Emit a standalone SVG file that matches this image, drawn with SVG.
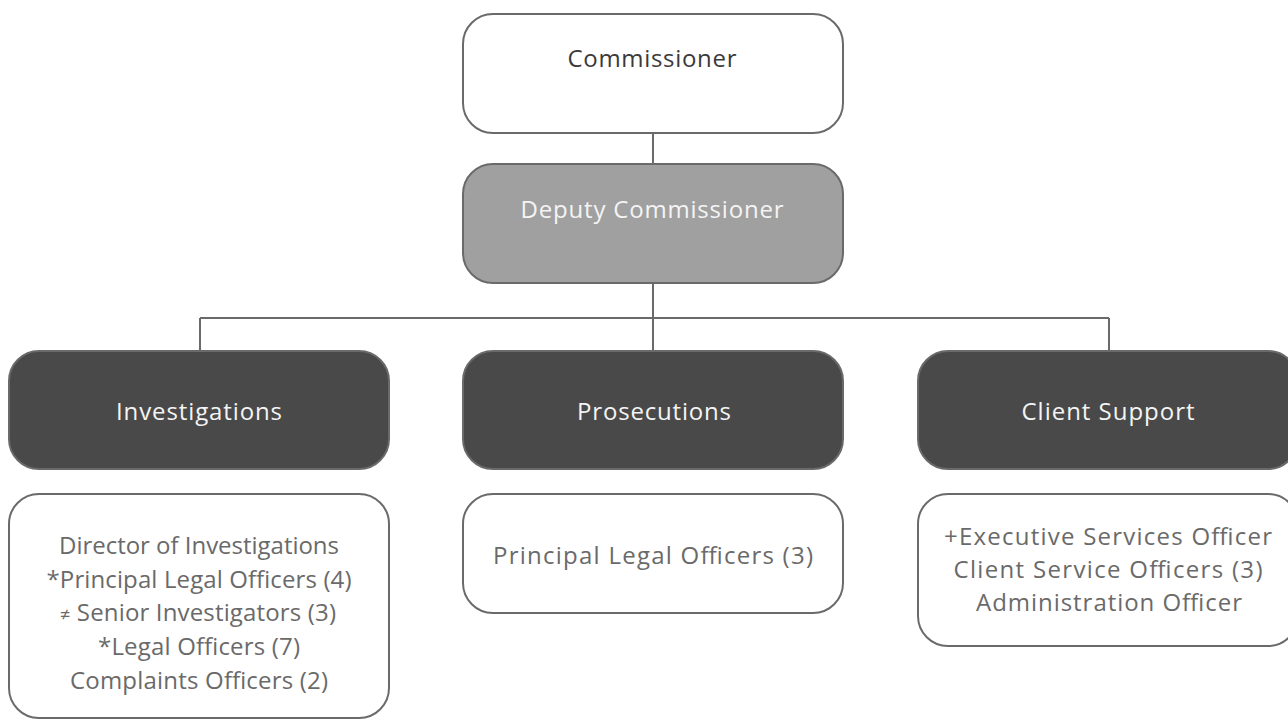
<svg xmlns="http://www.w3.org/2000/svg" width="1288" height="720" viewBox="0 0 1288 720">
<style>
.box{stroke:#6a6a6a;stroke-width:2}
.w{fill:#ffffff}
.g{fill:#a0a0a0}
.d{fill:#494949}
text{font-family:"Open Sans","Liberation Sans",sans-serif;font-size:24px;text-anchor:middle}
.t1{fill:#3a3a3a}
.t2{fill:#f4f4f4}
.t3{fill:#6a6a6a}
.conn{stroke:#6a6a6a;stroke-width:2;fill:none}
</style>
<rect width="1288" height="720" fill="#ffffff"/>
<g id="connectors">
<path class="conn" d="M653 133V164M653 283V318M200 318H1109M200 318V351M653 318V351M1109 318V351"/>
</g>
<g id="commissioner">
<rect class="box w" x="463" y="14" width="380" height="119" rx="30"/>
<text class="t1" x="652" y="67" textLength="169" lengthAdjust="spacing">Commissioner</text>
</g>
<g id="deputy">
<rect class="box g" x="463" y="164" width="380" height="119" rx="30"/>
<text class="t2" x="652" y="218" textLength="263" lengthAdjust="spacing">Deputy Commissioner</text>
</g>
<g id="investigations">
<rect class="box d" x="9" y="351" width="380" height="118" rx="30"/>
<text class="t2" x="199" y="420" textLength="166" lengthAdjust="spacing">Investigations</text>
</g>
<g id="prosecutions">
<rect class="box d" x="463" y="351" width="380" height="118" rx="30"/>
<text class="t2" x="654" y="420" textLength="154" lengthAdjust="spacing">Prosecutions</text>
</g>
<g id="client-support">
<rect class="box d" x="918" y="351" width="380" height="118" rx="30"/>
<text class="t2" x="1108" y="420" textLength="173" lengthAdjust="spacing">Client Support</text>
</g>
<g id="investigations-staff">
<rect class="box w" x="9" y="494" width="380" height="224" rx="30"/>
<text class="t3" x="199" y="554" textLength="280" lengthAdjust="spacing">Director of Investigations</text>
<text class="t3" x="199" y="588" textLength="305" lengthAdjust="spacing">*Principal Legal Officers (4)</text>
<text class="t3" x="198" y="621" textLength="276" lengthAdjust="spacing"><tspan font-size="18">≠</tspan> Senior Investigators (3)</text>
<text class="t3" x="199" y="655" textLength="202" lengthAdjust="spacing">*Legal Officers (7)</text>
<text class="t3" x="199" y="689" textLength="258" lengthAdjust="spacing">Complaints Officers (2)</text>
</g>
<g id="prosecutions-staff">
<rect class="box w" x="463" y="494" width="380" height="119" rx="30"/>
<text class="t3" x="653" y="564" textLength="320" lengthAdjust="spacing">Principal Legal Officers (3)</text>
</g>
<g id="client-support-staff">
<rect class="box w" x="918" y="494" width="380" height="152" rx="30"/>
<text class="t3" x="1108" y="545" textLength="328" lengthAdjust="spacing">+Executive Services Officer</text>
<text class="t3" x="1108" y="578" textLength="309" lengthAdjust="spacing">Client Service Officers (3)</text>
<text class="t3" x="1109" y="611" textLength="266" lengthAdjust="spacing">Administration Officer</text>
</g>
</svg>
